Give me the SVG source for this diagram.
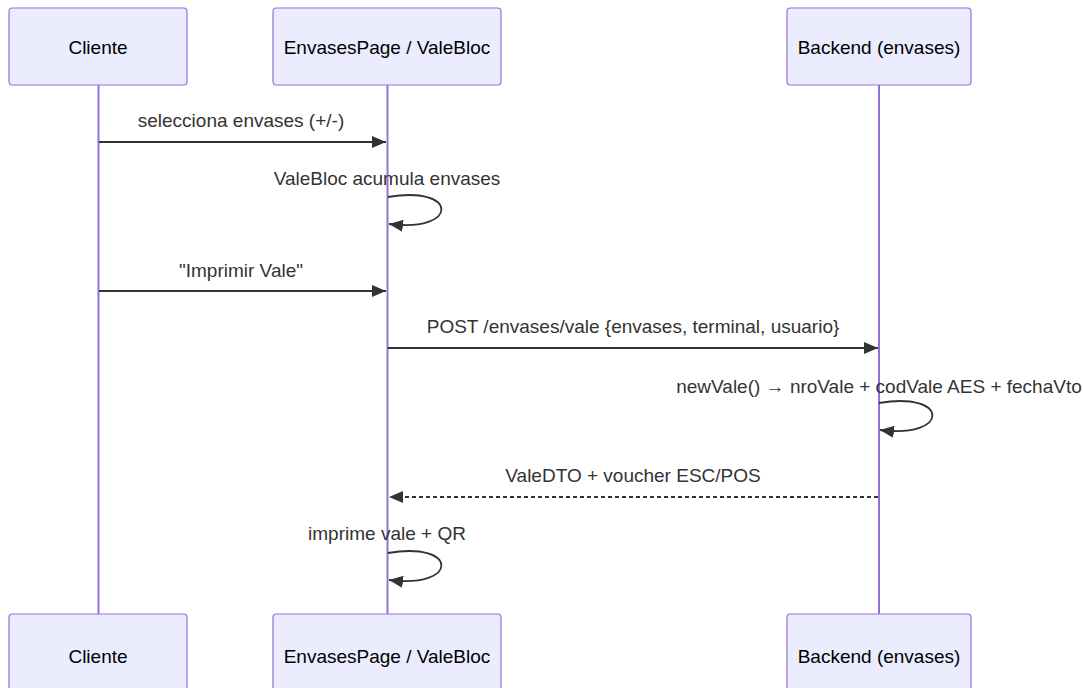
<svg xmlns="http://www.w3.org/2000/svg" width="1083" height="688" viewBox="0 0 1083 688">
  <style>
    .actor { fill: #ECECFF; stroke: #9370DB; stroke-width: 1.2; }
    .actor-label { font-family: "Trebuchet MS", "Liberation Sans", Arial, sans-serif; font-size: 19px; fill: #000; text-anchor: middle; }
    .lifeline { stroke: #9370DB; stroke-width: 2; }
    .msg { stroke: #333; stroke-width: 1.8; fill: none; }
    .dashed { stroke-dasharray: 4 3; }
    .msg-label { font-family: "Trebuchet MS", "Liberation Sans", Arial, sans-serif; font-size: 19px; fill: #333; text-anchor: middle; }
  </style>
  <defs>
    <marker id="arrowhead" viewBox="0 0 14 12" refX="14" refY="6" markerWidth="14" markerHeight="12" markerUnits="userSpaceOnUse" orient="auto">
      <path d="M0,0 L14,6 L0,12 z" fill="#333"/>
    </marker>
  </defs>
  <rect width="1083" height="688" fill="#fff"/>

  <!-- lifelines -->
  <g id="lifelines">
    <line class="lifeline" x1="98.5" y1="85" x2="98.5" y2="614"/>
    <line class="lifeline" x1="387.5" y1="85" x2="387.5" y2="614"/>
    <line class="lifeline" x1="879" y1="85" x2="879" y2="614"/>
  </g>

  <!-- participants, top -->
  <g id="cliente-top">
    <rect class="actor" x="9" y="8" width="178" height="77" rx="3.5"/>
    <text class="actor-label" x="98" y="54">Cliente</text>
  </g>
  <g id="envasespage-top">
    <rect class="actor" x="273" y="8" width="228" height="77" rx="3.5"/>
    <text class="actor-label" x="387" y="54">EnvasesPage / ValeBloc</text>
  </g>
  <g id="backend-top">
    <rect class="actor" x="787" y="8" width="184" height="77" rx="3.5"/>
    <text class="actor-label" x="879" y="54">Backend (envases)</text>
  </g>

  <!-- participants, bottom -->
  <g id="cliente-bottom">
    <rect class="actor" x="9" y="614" width="178" height="77" rx="3.5"/>
    <text class="actor-label" x="98" y="663">Cliente</text>
  </g>
  <g id="envasespage-bottom">
    <rect class="actor" x="273" y="614" width="228" height="77" rx="3.5"/>
    <text class="actor-label" x="387" y="663">EnvasesPage / ValeBloc</text>
  </g>
  <g id="backend-bottom">
    <rect class="actor" x="787" y="614" width="184" height="77" rx="3.5"/>
    <text class="actor-label" x="879" y="663">Backend (envases)</text>
  </g>

  <!-- messages -->
  <g id="connectors">
    <text class="msg-label" x="241" y="127">selecciona envases (+/-)</text>
    <line class="msg" x1="99" y1="142" x2="386" y2="142" marker-end="url(#arrowhead)"/>

    <text class="msg-label" x="387" y="185">ValeBloc acumula envases</text>
    <path class="msg" d="M388,197 C459,185 459,233 389,224" marker-end="url(#arrowhead)"/>

    <text class="msg-label" x="241" y="277">"Imprimir Vale"</text>
    <line class="msg" x1="99" y1="291" x2="386" y2="291" marker-end="url(#arrowhead)"/>

    <text class="msg-label" x="633" y="333">POST /envases/vale {envases, terminal, usuario}</text>
    <line class="msg" x1="388" y1="348" x2="878" y2="348" marker-end="url(#arrowhead)"/>

    <text class="msg-label" x="879" y="393">newVale() → nroVale + codVale AES + fechaVto</text>
    <path class="msg" d="M879,403 C950,391 950,439 880,430" marker-end="url(#arrowhead)"/>

    <text class="msg-label" x="633" y="482">ValeDTO + voucher ESC/POS</text>
    <line class="msg dashed" x1="878" y1="497" x2="389" y2="497" marker-end="url(#arrowhead)"/>

    <text class="msg-label" x="387" y="540">imprime vale + QR</text>
    <path class="msg" d="M388,553 C459,541 459,589 389,580" marker-end="url(#arrowhead)"/>
  </g>
</svg>
